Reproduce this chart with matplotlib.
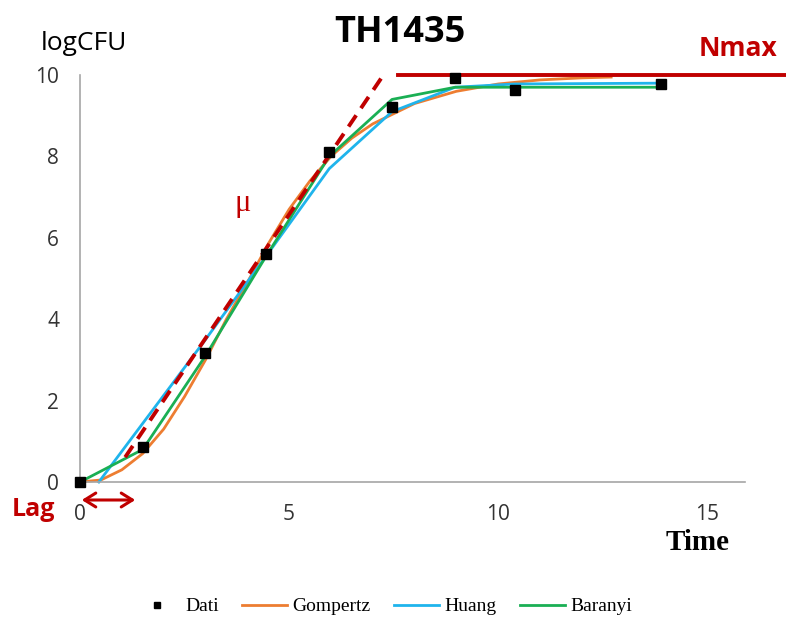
import matplotlib.pyplot as plt
from matplotlib.patches import FancyArrowPatch

# data
dati_t = [0, 1.5, 3.0, 4.45, 5.96, 7.46, 8.97, 10.4, 13.9]
dati_y = [0, 0.85, 3.17, 5.6, 8.1, 9.21, 9.93, 9.63, 9.78]

gomp_t = [0, 0.5, 1.0, 1.5, 2.0, 2.5, 3.0, 3.5, 4.0, 4.5, 5.0, 5.5, 6.0, 6.5,
          7.0, 7.5, 8.0, 9.0, 10.0, 11.0, 12.0, 12.7]
gomp_y = [0, 0.05, 0.3, 0.7, 1.3, 2.1, 3.0, 4.0, 4.9, 5.85, 6.7, 7.4, 8.0, 8.45,
          8.8, 9.05, 9.3, 9.6, 9.78, 9.88, 9.93, 9.95]

huang_t = [0.45, 3.0, 4.45, 5.96, 7.46, 8.97, 10.4, 13.9]
huang_y = [0, 3.5, 5.55, 7.7, 9.1, 9.7, 9.78, 9.8]

baranyi_t = [0, 1.5, 3.0, 4.45, 5.96, 7.46, 8.97, 10.4, 13.9]
baranyi_y = [0, 0.8, 3.1, 5.55, 8.0, 9.4, 9.7, 9.7, 9.7]

mu_t = [1.08, 7.3]
mu_y = [0.61, 10.07]

nmax_t = [7.6, 16.9]
nmax_y = [10, 10]

red = '#c00000'

fig = plt.figure(figsize=(7.86, 6.19), dpi=100)
ax = fig.add_axes([0.1018, 0.2213, 0.8460, 0.6575])

ax.plot(gomp_t, gomp_y, color='#ed7d31', lw=2, label='Gompertz', clip_on=False)
ax.plot(huang_t, huang_y, color='#1fb4ec', lw=2, label='Huang', clip_on=False)
ax.plot(baranyi_t, baranyi_y, color='#1aaf54', lw=2, label='Baranyi', clip_on=False)
ax.plot(mu_t, mu_y, color=red, lw=2.8, ls=(0, (3.5, 2.2)), clip_on=False)
ax.plot(nmax_t, nmax_y, color=red, lw=2.8, clip_on=False)
ax.plot(dati_t, dati_y, 's', color='black', ms=7, ls='none', label='Dati',
        clip_on=False, zorder=5)

ax.set_xlim(0, 15.9)
ax.set_ylim(0, 10)
ax.set_xticks([0, 5, 10, 15])
ax.set_yticks([0, 2, 4, 6, 8, 10])
ax.tick_params(length=0, labelsize=15, colors='#333333')
ax.tick_params(axis='x', pad=16)
ax.tick_params(axis='y', pad=15)
for lab in ax.get_xticklabels() + ax.get_yticklabels():
    lab.set_family('Open Sans')
for s in ['top', 'right']:
    ax.spines[s].set_visible(False)
for s in ['left', 'bottom']:
    ax.spines[s].set_color('#a6a6a6')
    ax.spines[s].set_linewidth(1.2)

fig.text(0.509, 0.947, 'TH1435', ha='center', va='center', fontsize=26,
         fontweight='bold', family='Open Sans')
fig.text(0.107, 0.930, 'logCFU', ha='center', va='center', fontsize=19,
         family='Open Sans')
fig.text(0.888, 0.124, 'Time', ha='center', va='center', fontsize=21,
         fontweight='bold', family='Liberation Serif')
fig.text(0.939, 0.922, 'Nmax', ha='center', va='center', fontsize=19,
         fontweight='bold', color=red, family='Open Sans')
fig.text(0.309, 0.672, 'μ', ha='center', va='center', fontsize=22,
         color=red, family='Liberation Serif')
fig.text(0.042, 1 - 509 / 619, 'Lag', ha='center', va='center', fontsize=18,
         fontweight='bold', color=red, family='Open Sans')

arr = FancyArrowPatch((79 / 786, 1 - 500 / 619), (138 / 786, 1 - 500 / 619),
                      transform=fig.transFigure, arrowstyle='<->,head_length=8,head_width=5',
                      color=red, lw=2.2)
fig.patches.append(arr)

handles, labels = ax.get_legend_handles_labels()
order = [3, 0, 1, 2]
fig.legend([handles[i] for i in order], [labels[i] for i in order],
           loc='center', bbox_to_anchor=(0.488, 0.02), ncol=4, frameon=False,
           prop={'family': 'Liberation Serif', 'size': 14}, handlelength=2.3,
           columnspacing=1.2, handletextpad=0.3, markerscale=0.7)

fig.savefig('out.png', dpi=100)
